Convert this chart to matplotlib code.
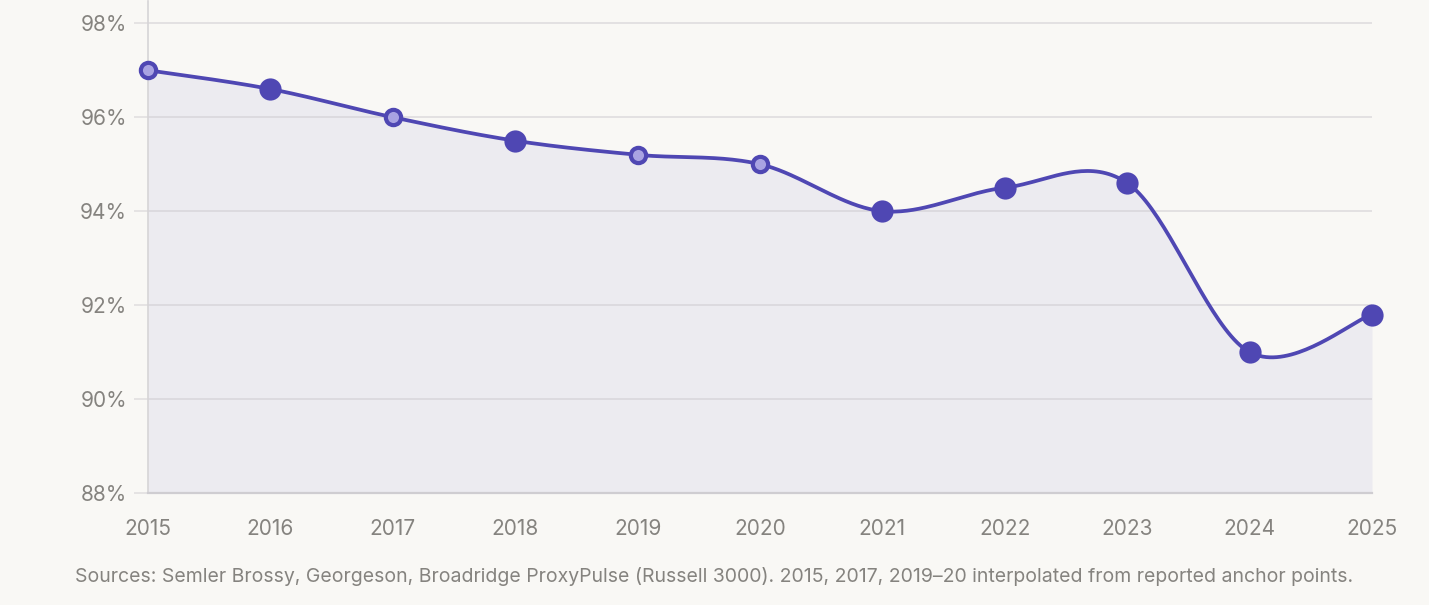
import numpy as np
import matplotlib.pyplot as plt

years = [2015, 2016, 2017, 2018, 2019, 2020, 2021, 2022, 2023, 2024, 2025]
support = [97.0, 96.6, 96.0, 95.5, 95.2, 95.0, 94.0, 94.5, 94.6, 91.0, 91.8]
interpolated = [True, False, True, False, True, True, False, False, False, False, False]
yticks = [88, 90, 92, 94, 96, 98]
source = ("Sources: Semler Brossy, Georgeson, Broadridge ProxyPulse (Russell 3000). "
          "2015, 2017, 2019\u201320 interpolated from reported anchor points.")

BG = '#f9f8f5'
LINE = '#4f47b3'
LIGHT = '#a9a3e2'
TXT = '#85837f'

plt.rcParams['font.family'] = ['Inter', 'DejaVu Sans']


def catmull_rom(x, y, n=40):
    # uniform Catmull-Rom (cardinal, tension 0), endpoints duplicated
    x = np.asarray(x, float)
    y = np.asarray(y, float)
    px = np.concatenate([[x[0]], x, [x[-1]]])
    py = np.concatenate([[y[0]], y, [y[-1]]])
    xs, ys = [], []
    for i in range(len(x) - 1):
        p0, p1, p2, p3 = py[i], py[i + 1], py[i + 2], py[i + 3]
        q0, q1, q2, q3 = px[i], px[i + 1], px[i + 2], px[i + 3]
        m1, m2 = (p2 - p0) / 2, (p3 - p1) / 2
        k1, k2 = (q2 - q0) / 2, (q3 - q1) / 2
        t = np.linspace(0, 1, n, endpoint=(i == len(x) - 2))
        h00 = 2 * t**3 - 3 * t**2 + 1
        h10 = t**3 - 2 * t**2 + t
        h01 = -2 * t**3 + 3 * t**2
        h11 = t**3 - t**2
        xs.append(h00 * q1 + h10 * k1 + h01 * q2 + h11 * k2)
        ys.append(h00 * p1 + h10 * m1 + h01 * p2 + h11 * m2)
    return np.concatenate(xs), np.concatenate(ys)


fig = plt.figure(figsize=(14.29, 6.05), dpi=100, facecolor=BG)
ax = fig.add_axes([148 / 1429, 1 - 493 / 605, (1372 - 148) / 1429, 493 / 605 - 0.002])
ax.set_facecolor(BG)

cx, cy = catmull_rom(years, support)
ax.fill_between(cx, cy, 88, color='#ecebf0', lw=0, zorder=0.2)
ax.plot(cx, cy, color=LINE, lw=2.7, zorder=3, solid_capstyle='round')

for yr, v, interp in zip(years, support, interpolated):
    if interp:
        ax.plot(yr, v, 'o', ms=11, mfc=LIGHT, mec=LINE, mew=3, zorder=4, clip_on=False)
    else:
        ax.plot(yr, v, 'o', ms=16, mfc=LINE, mec=LINE, mew=0, zorder=4, clip_on=False)

ax.set_xlim(2015, 2025)
ax.set_ylim(88, 98.47)
ax.set_yticks(yticks)
ax.set_yticklabels([f'{t}%' for t in yticks])
ax.set_xticks(years)
ax.set_xticklabels([str(y) for y in years])
ax.set_axisbelow(True)
ax.grid(axis='y', color='#c9c7cc', alpha=0.5, lw=1.3)

for s in ['top', 'right']:
    ax.spines[s].set_visible(False)
ax.spines['left'].set_color('#d6d4d6')
ax.spines['bottom'].set_color('#cfcdd1')
ax.spines['left'].set_linewidth(1.2)
ax.spines['bottom'].set_linewidth(1.6)
ax.spines['left'].set_zorder(0.6)

ax.tick_params(axis='y', length=10, width=1.3, color='#e3e1e2', labelsize=15, labelcolor=TXT, pad=5)
ax.tick_params(axis='x', length=0, labelsize=15, labelcolor=TXT, pad=19)

fig.text(75 / 1429, 1 - 576 / 605, source, fontsize=14, color=TXT, va='center', ha='left')

fig.savefig('out.png', dpi=100, facecolor=BG)
